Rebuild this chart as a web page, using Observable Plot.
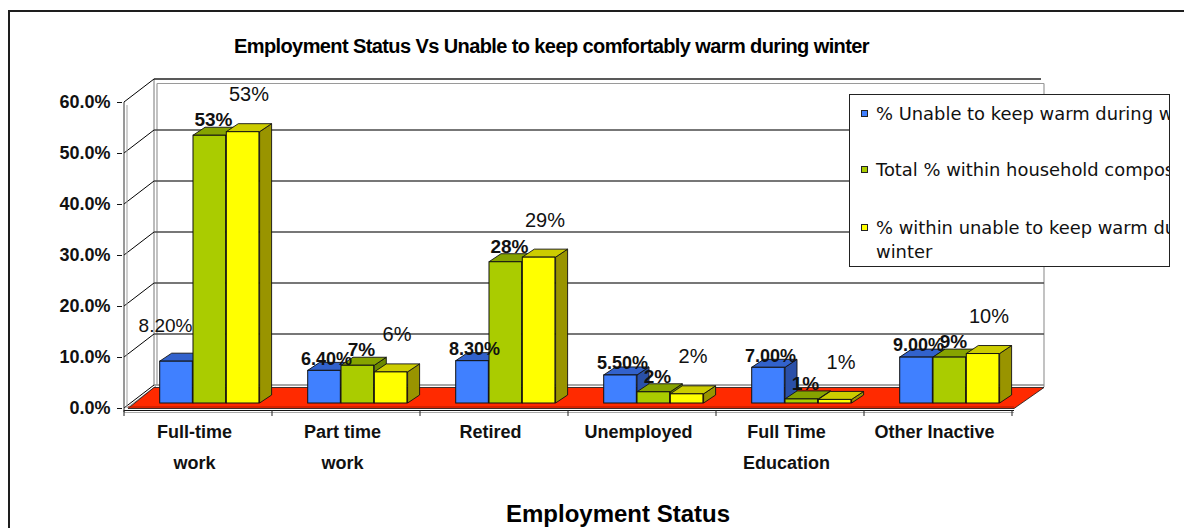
<!DOCTYPE html>
<html>
<head>
<meta charset="utf-8">
<script src="https://cdn.jsdelivr.net/npm/d3@7"></script>
<script src="https://cdn.jsdelivr.net/npm/@observablehq/plot@0.6"></script>
<style>
  html, body { margin: 0; padding: 0; background: #fff; }
  body { width: 1184px; height: 528px; overflow: hidden; position: relative; font-family: "Liberation Sans", Arial, sans-serif; }
  #chart { position: absolute; left: 0; top: 0; }
  #frame { position: absolute; left: 8px; top: 10px; width: 1400px; height: 800px; border: 2px solid #1e1e1e; box-sizing: border-box; pointer-events: none; }
  #title { position: absolute; left: 0; width: 1103px; top: 35.5px; text-align: center; font-weight: bold; font-size: 20px; line-height: 20px; letter-spacing: -0.6px; white-space: nowrap; }
  #xtitle { position: absolute; left: 418px; width: 400px; top: 502px; text-align: center; font-weight: bold; font-size: 24px; line-height: 24px; white-space: nowrap; }
  #legend { position: absolute; left: 849px; top: 94px; width: 321px; height: 173px; box-sizing: border-box; border: 1.5px solid #222; background: #fff; overflow: hidden; font-family: "DejaVu Sans", sans-serif; font-size: 17.9px; color: #111; }
  .item { position: absolute; left: 26px; line-height: 24px; white-space: nowrap; }
  .swatch { position: absolute; left: 11px; width: 7px; height: 7px; box-sizing: border-box; border: 1px solid #222; }
</style>
</head>
<body>
<div id="chart"></div>
<div id="title"></div>
<div id="xtitle"></div>
<div id="legend"></div>
<div id="frame"></div>
<script>
// ---------------- data ----------------
const chartTitle = "Employment Status Vs Unable to keep comfortably warm during winter";
const xTitle = "Employment Status";
const categories = ["Full-time\nwork", "Part time\nwork", "Retired", "Unemployed", "Full Time\nEducation", "Other Inactive"];
const seriesNames = [
  "% Unable to keep warm during winter",
  "Total % within household composition",
  "% within unable to keep warm during\nwinter"
];
const unableWarm     = [8.2, 6.4, 8.3, 5.5, 7.0, 9.0];
const totalHousehold = [52.5, 7.4, 27.7, 2.2, 0.8, 9.0];
const withinUnable   = [53.2, 6.1, 28.6, 1.8, 0.7, 9.7];
const yTicks = [0, 10, 20, 30, 40, 50, 60];

// ---------------- styles ----------------
const frontColors = ["#4080ff", "#aacc00", "#ffff00"];
const topColors   = ["#3262cc", "#86a300", "#cccc00"];
const sideColors  = ["#2a50a8", "#6c8800", "#999400"];
const floorColor = "#ff2a00";
const BAR_OFF = 35.7, BAR_W = 33.3, BAR_DY = -5;
const DEPTH = {dx: 12, dy: -8};
const WALL = {dx: 30, dy: -23};
const FLOOR = {dx: 30, dy: -21};

const seriesValues = [unableWarm, totalHousehold, withinUnable];
const rows = categories.flatMap((c, i) => seriesValues.map((vals, j) => ({category: c, series: j, index: i, value: vals[i]})));
const fmtBlue = v => v.toFixed(2) + "%";
const fmtRound = v => Math.round(v) + "%";

function bandOf(x) {
  return typeof x.bandwidth === "function" ? x.bandwidth() : x.bandwidth;
}

// back wall, floor, gridlines and 3D axis lines
function backdrop(index, scales) {
  const x = scales.x, y = scales.y;
  const bw = bandOf(x);
  const X0 = x(categories[0]), X1 = x(categories[categories.length - 1]) + bw, Y0 = y(0);
  const Ytop = y(yTicks[yTicks.length - 1]);
  const g = d3.create("svg:g");
  const line = (x1, y1, x2, y2, stroke, w = 1) =>
    g.append("line").attr("x1", x1).attr("y1", y1).attr("x2", x2).attr("y2", y2).attr("stroke", stroke).attr("stroke-width", w);
  // wall frame (inner gray lines)
  line(X0 + WALL.dx + 3, Ytop + WALL.dy + 4.5, X1 + WALL.dx + 2, Ytop + WALL.dy + 4.5, "#9a9a9a", 1.2);
  line(X0 + WALL.dx + 3, Ytop + WALL.dy + 4.5, X0 + WALL.dx + 3, Y0 + WALL.dy, "#9a9a9a", 1.2);
  line(X1 + WALL.dx + 2, Ytop + WALL.dy + 4.5, X1 + WALL.dx + 2, Y0 + FLOOR.dy, "#9a9a9a", 1.2);
  line(X0 + WALL.dx, Ytop + WALL.dy, X0 + WALL.dx, Y0 + WALL.dy, "#777", 1);
  // gridlines on the back wall + connectors to the front axis
  for (const t of yTicks) {
    const yy = y(t) + WALL.dy;
    const last = t === yTicks[yTicks.length - 1];
    if (t !== 0) line(X0 + WALL.dx, yy, last ? X1 + WALL.dx - 1 : X1 + WALL.dx + 2, yy, last ? "#222" : "#4a4a4a", 1.3);
    else line(X0 + WALL.dx, yy, X1 + WALL.dx + 2, yy, "#8a8a8a", 1.3);
    line(X0, y(t), X0 + WALL.dx, yy, "#000", 1);
  }
  line(X0 + 3, Y0, X0 + WALL.dx + 2, Y0 + WALL.dy + 1, "#9a9a9a", 1);
  // front vertical axis
  line(X0, Ytop, X0, Y0 + 4, "#333", 1);
  line(X0 + 3, Ytop + 3, X0 + 3, Y0, "#a0a0a0", 1);
  // floor
  g.append("polygon")
    .attr("points", [[X0 + 4, Y0 + 0.5], [X1 + 2, Y0 + 0.5], [X1 + 2 + FLOOR.dx, Y0 + 0.5 + FLOOR.dy], [X0 + FLOOR.dx, Y0 + 0.5 + FLOOR.dy]].join(" "))
    .attr("fill", floorColor).attr("stroke", "#111").attr("stroke-width", 0.8);
  line(X0 + 4, Y0 - 1, X1 + 2, Y0 - 1, "#b01800", 1.2);
  // category axis line and boundary ticks
  line(X0, Y0 + 2.5, X1 + 2, Y0 + 2.5, "#111", 1.2);
  line(X0, Y0 + 4.5, X1 + 2, Y0 + 4.5, "#aaa", 1);
  for (let i = 0; i <= categories.length; i++) {
    const xx = i < categories.length ? x(categories[i]) : X1;
    line(xx, Y0 + 2, xx, Y0 + 8, "#222", 1);
  }
  return g.node();
}

// top and side faces of the 3D columns
function barDepth(index, scales) {
  const x = scales.x, y = scales.y;
  const g = d3.create("svg:g");
  categories.forEach((c, i) => {
    seriesValues.forEach((vals, j) => {
      const left = x(c) + BAR_OFF + j * BAR_W, right = left + BAR_W;
      const top = y(vals[i]) + BAR_DY, base = y(0) + BAR_DY;
      g.append("polygon")
        .attr("points", [[right, top], [right + DEPTH.dx, top + DEPTH.dy], [right + DEPTH.dx, base + DEPTH.dy], [right, base]].join(" "))
        .attr("fill", sideColors[j]).attr("stroke", "#111").attr("stroke-width", 0.9).attr("stroke-linejoin", "round");
      g.append("polygon")
        .attr("points", [[left, top], [left + DEPTH.dx, top + DEPTH.dy], [right + DEPTH.dx, top + DEPTH.dy], [right, top]].join(" "))
        .attr("fill", topColors[j]).attr("stroke", "#111").attr("stroke-width", 0.9).attr("stroke-linejoin", "round");
    });
  });
  return g.node();
}

const fronts = seriesValues.map((vals, j) => Plot.barY(rows.filter(d => d.series === j), {
  x: "category", y: "value",
  fill: frontColors[j], stroke: "#111", strokeWidth: 1,
  insetLeft: BAR_OFF + j * BAR_W,
  insetRight: 148.667 - BAR_OFF - (j + 1) * BAR_W,
  dy: BAR_DY
}));

const chart = Plot.plot({
  width: 1184,
  height: 528,
  marginTop: 102,
  marginBottom: 120,
  marginLeft: 122,
  marginRight: 170,
  style: {fontFamily: '"Liberation Sans", Arial, sans-serif', fontSize: "18px", fontWeight: "bold", background: "transparent", color: "#111", overflow: "visible"},
  x: {domain: categories, padding: 0, axis: null},
  y: {domain: [0, 60], ticks: yTicks, tickFormat: d => d.toFixed(1) + "%", tickSize: 5, tickPadding: 7, label: null},
  marks: [
    backdrop,
    barDepth,
    ...fronts,
    // value labels: first series
    Plot.text(rows.filter(d => d.series === 0 && d.index === 0), {
      x: "category", y: "value", text: d => fmtBlue(d.value),
      dx: -33, dy: -41, fontSize: 19, fontWeight: "normal", fill: "#111"
    }),
    Plot.text(rows.filter(d => d.series === 0 && d.index > 0), {
      x: "category", y: "value", text: d => fmtBlue(d.value),
      dx: -20, dy: -17, fontSize: 18, fontWeight: "bold", fill: "#111"
    }),
    Plot.text(rows.filter(d => d.series === 1), {
      x: "category", y: "value", text: d => fmtRound(d.value),
      dx: 15, dy: -20.5, fontSize: 19, fontWeight: "bold", fill: "#111"
    }),
    Plot.text(rows.filter(d => d.series === 2), {
      x: "category", y: "value", text: d => fmtRound(d.value),
      dx: 50.5, dy: -42.5, fontSize: 20, fontWeight: "normal", fill: "#111"
    }),
    // category labels
    Plot.text(categories, {
      x: d => d, text: d => d, frameAnchor: "bottom", lineAnchor: "top",
      dx: -4, dy: 8, fontSize: 18, fontWeight: "bold", lineHeight: 1.72, fill: "#111"
    })
  ]
});
document.getElementById("chart").appendChild(chart);

document.getElementById("title").textContent = chartTitle;
document.getElementById("xtitle").textContent = xTitle;

const legend = document.getElementById("legend");
const legendCenters = [18.5, 74.5, 132.5];
seriesNames.forEach((name, j) => {
  const sw = document.createElement("div");
  sw.className = "swatch";
  sw.style.background = frontColors[j];
  sw.style.top = (legendCenters[j] - 3.5) + "px";
  legend.appendChild(sw);
  const it = document.createElement("div");
  it.className = "item";
  it.style.top = (legendCenters[j] - 12) + "px";
  name.split("\n").forEach((ln, k) => {
    if (k) it.appendChild(document.createElement("br"));
    it.appendChild(document.createTextNode(ln));
  });
  legend.appendChild(it);
});
</script>
</body>
</html>
